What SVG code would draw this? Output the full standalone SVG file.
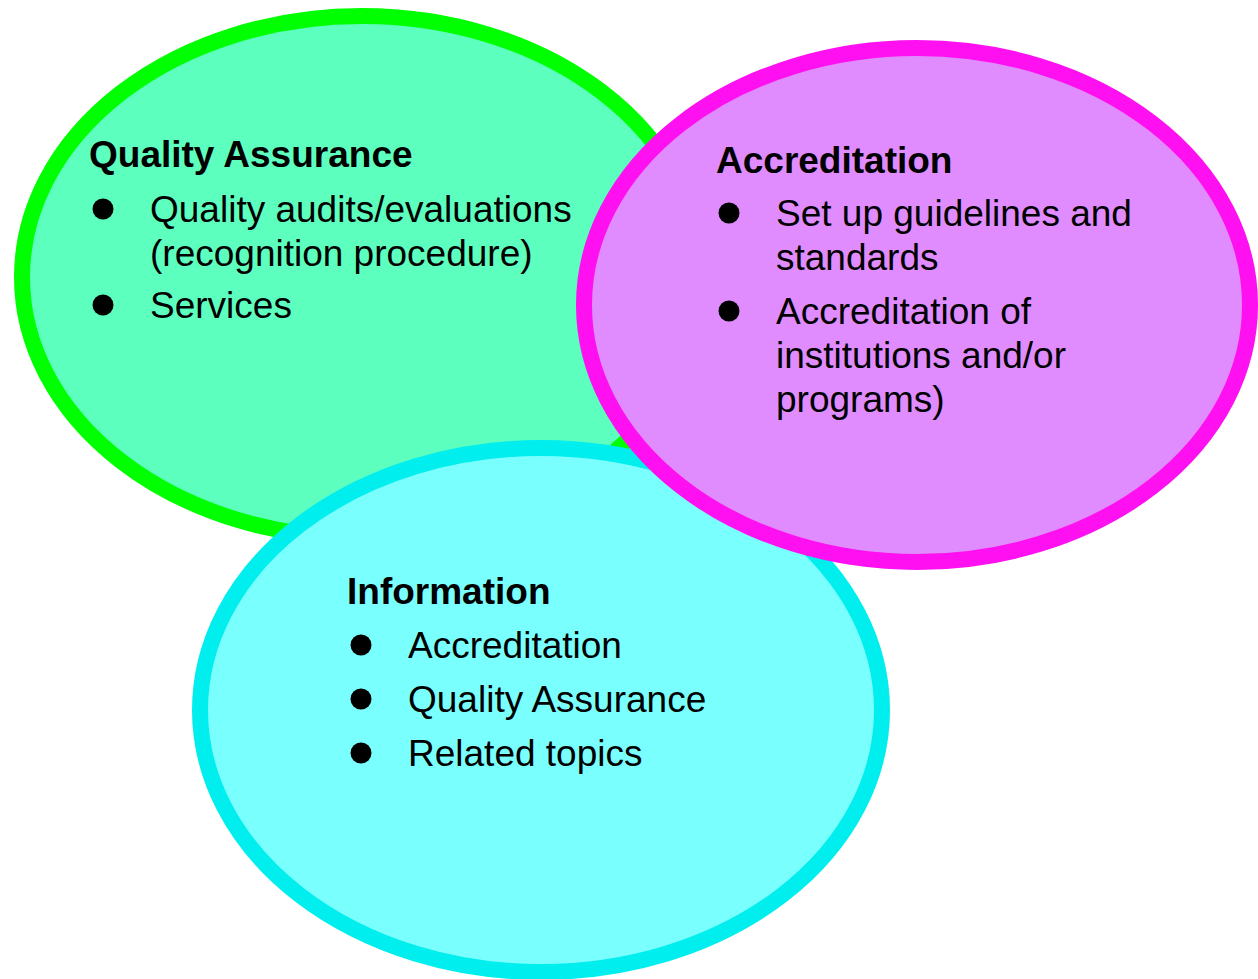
<svg xmlns="http://www.w3.org/2000/svg" width="1258" height="979" viewBox="0 0 1258 979">
<style>
.t{font-family:"Liberation Sans",Arial,sans-serif;font-size:37px;fill:#000}
.h{font-weight:bold}
.e{stroke-width:16}
</style>
<rect width="1258" height="979" fill="#fff"/>
<g id="quality-assurance">
<ellipse class="e" cx="362" cy="277" rx="340" ry="261" fill="#5CFFBE" stroke="#00FF00"/>
<text class="t h" x="89" y="167">Quality Assurance</text>
<circle cx="103" cy="209" r="10.5"/>
<text class="t" x="150" y="222">Quality audits/evaluations</text>
<text class="t" x="150" y="266">(recognition procedure)</text>
<circle cx="103" cy="305" r="10.5"/>
<text class="t" x="150" y="318">Services</text>
</g>
<g id="information">
<ellipse class="e" cx="541" cy="710" rx="341" ry="262" fill="#7AFFFF" stroke="#00EEEE"/>
<text class="t h" x="347" y="604">Information</text>
<circle cx="361" cy="645" r="10.5"/>
<text class="t" x="408" y="658">Accreditation</text>
<circle cx="361" cy="699" r="10.5"/>
<text class="t" x="408" y="712">Quality Assurance</text>
<circle cx="361" cy="753" r="10.5"/>
<text class="t" x="408" y="766">Related topics</text>
</g>
<g id="accreditation">
<ellipse class="e" cx="917" cy="305" rx="333" ry="257" fill="#E08CFF" stroke="#FF10F0"/>
<text class="t h" x="716" y="173">Accreditation</text>
<circle cx="729" cy="213" r="10.5"/>
<text class="t" x="776" y="226">Set up guidelines and</text>
<text class="t" x="776" y="270">standards</text>
<circle cx="729" cy="311" r="10.5"/>
<text class="t" x="776" y="324">Accreditation of</text>
<text class="t" x="776" y="368">institutions and/or</text>
<text class="t" x="776" y="412">programs)</text>
</g>
<g id="connectors"></g>
</svg>
